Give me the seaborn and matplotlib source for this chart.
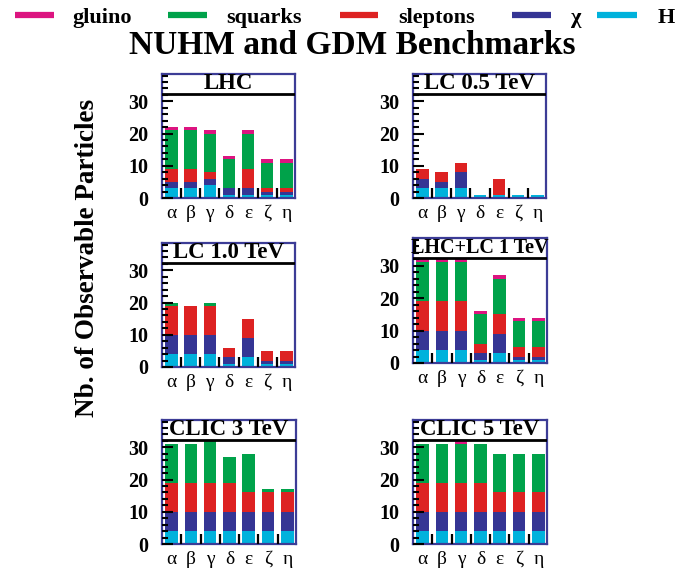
import numpy as np
import pandas as pd
import matplotlib
matplotlib.use("Agg")
import matplotlib.pyplot as plt
import seaborn as sns
from matplotlib.lines import Line2D
from matplotlib.ticker import MultipleLocator, FixedLocator

# ---------------- data ----------------
categories = ["α", "β", "γ", "δ", "ε", "ζ", "η"]
species = ["H", "χ", "sleptons", "squarks", "gluino"]   # stacking order, bottom -> top
legend_order = ["gluino", "squarks", "sleptons", "χ", "H"]

panel_titles = ["LHC", "LC 0.5 TeV", "LC 1.0 TeV", "LHC+LC 1 TeV", "CLIC 3 TeV", "CLIC 5 TeV"]

lhc_H        = [3, 3, 4, 1, 1, 1, 1]
lhc_chi      = [2, 2, 2, 2, 2, 1, 1]
lhc_sleptons = [4, 4, 2, 0, 6, 1, 1]
lhc_squarks  = [12, 12, 12, 9, 11, 8, 8]
lhc_gluino   = [1, 1, 1, 1, 1, 1, 1]

lc05_H        = [3, 3, 3, 1, 1, 1, 1]
lc05_chi      = [3, 2, 5, 0, 0, 0, 0]
lc05_sleptons = [3, 3, 3, 0, 5, 0, 0]
lc05_squarks  = [0, 0, 0, 0, 0, 0, 0]
lc05_gluino   = [0, 0, 0, 0, 0, 0, 0]

lc1_H        = [4, 4, 4, 1, 3, 1, 1]
lc1_chi      = [6, 6, 6, 2, 6, 1, 1]
lc1_sleptons = [9, 9, 9, 3, 6, 3, 3]
lc1_squarks  = [1, 0, 1, 0, 0, 0, 0]
lc1_gluino   = [0, 0, 0, 0, 0, 0, 0]

comb_H        = [4, 4, 4, 1, 3, 1, 1]
comb_chi      = [6, 6, 6, 2, 6, 1, 1]
comb_sleptons = [9, 9, 9, 3, 6, 3, 3]
comb_squarks  = [12, 12, 12, 9, 11, 8, 8]
comb_gluino   = [1, 1, 1, 1, 1, 1, 1]

clic3_H        = [4, 4, 4, 4, 4, 4, 4]
clic3_chi      = [6, 6, 6, 6, 6, 6, 6]
clic3_sleptons = [9, 9, 9, 9, 6, 6, 6]
clic3_squarks  = [12, 12, 13, 8, 12, 1, 1]
clic3_gluino   = [0, 0, 0, 0, 0, 0, 0]

clic5_H        = [4, 4, 4, 4, 4, 4, 4]
clic5_chi      = [6, 6, 6, 6, 6, 6, 6]
clic5_sleptons = [9, 9, 9, 9, 6, 6, 6]
clic5_squarks  = [12, 12, 12, 12, 12, 12, 12]
clic5_gluino   = [0, 0, 1, 0, 0, 0, 0]

panel_data = [
    [lhc_H, lhc_chi, lhc_sleptons, lhc_squarks, lhc_gluino],
    [lc05_H, lc05_chi, lc05_sleptons, lc05_squarks, lc05_gluino],
    [lc1_H, lc1_chi, lc1_sleptons, lc1_squarks, lc1_gluino],
    [comb_H, comb_chi, comb_sleptons, comb_squarks, comb_gluino],
    [clic3_H, clic3_chi, clic3_sleptons, clic3_squarks, clic3_gluino],
    [clic5_H, clic5_chi, clic5_sleptons, clic5_squarks, clic5_gluino],
]

colors = {
    "gluino": "#dc1480",
    "squarks": "#00a24a",
    "sleptons": "#dd2222",
    "χ": "#353594",
    "H": "#00b2dc",
}
frame_color = "#3c3c96"

# ---------------- layout (pixels) ----------------
W, H = 698, 570
boxes = [  # left, top, right, bottom
    (162, 74, 295, 198),
    (413, 74, 546, 198),
    (162, 243, 295, 367),
    (413, 238, 547, 363),
    (162, 420, 296, 544),
    (413, 420, 547, 544),
]

plt.rcParams["font.family"] = ["Liberation Serif", "DejaVu Serif"]

fig = plt.figure(figsize=(W / 100, H / 100), dpi=100)

YTOP = 38.5
YLINE = 32.3

for title, data, (l, t, r, b) in zip(panel_titles, panel_data, boxes):
    ax = fig.add_axes([l / W, 1 - b / H, (r - l) / W, (b - t) / H])
    cum = np.zeros(len(categories))
    layers = []
    for sp, vals in zip(species, data):
        cum = cum + np.asarray(vals, dtype=float)
        layers.append((sp, cum.copy()))
    for sp, c in reversed(layers):
        df = pd.DataFrame({"cat": categories, "n": c})
        sns.barplot(data=df, x="cat", y="n", order=categories, color=colors[sp],
                    saturation=1, width=0.65, errorbar=None, linewidth=0,
                    ax=ax, zorder=1)
    ax.set_xlabel("")
    ax.set_ylabel("")
    ax.set_xlim(-0.5, 6.45)
    ax.set_ylim(0, YTOP)

    ax.set_yticks([0, 10, 20, 30])
    ax.yaxis.set_minor_locator(MultipleLocator(2))
    ax.tick_params(axis="y", which="major", direction="in", length=8, width=1.5,
                   color="black", labelsize=14.5, pad=10, left=True, right=False)
    ax.tick_params(axis="y", which="minor", direction="in", length=4, width=1.5,
                   color="black", left=True, right=False)
    for lab in ax.get_yticklabels():
        lab.set_fontweight("bold")

    ax.set_xticks(range(len(categories)))
    ax.set_xticklabels(categories, fontsize=14)
    ax.xaxis.set_minor_locator(FixedLocator(np.arange(0.5, 6.0, 1.0)))
    ax.tick_params(axis="x", which="major", length=0, pad=5, bottom=True, top=False)
    ax.tick_params(axis="x", which="minor", direction="in", length=7.5, width=1.6,
                   color="black", bottom=True, top=False)
    ax.set_axisbelow(False)

    for s in ax.spines.values():
        s.set_color(frame_color)
        s.set_linewidth(1.6)

    ax.axhline(YLINE, color="black", lw=2, zorder=3)
    ax.text(0.5, (YLINE + YTOP) / 2 / YTOP, title, transform=ax.transAxes,
            ha="center", va="center", fontsize=14.5 if "+" in title else 16.5,
            fontweight="bold", zorder=4)

# ---------------- legend ----------------
legend_pos = {  # patch start, patch end, text x
    "gluino": (15, 54, 72),
    "squarks": (168, 207, 226),
    "sleptons": (340, 378, 398),
    "χ": (512, 551, 571),
    "H": (597, 637, 658),
}
for name in legend_order:
    x0, x1, xt = legend_pos[name]
    fig.add_artist(Line2D([x0 / W, x1 / W], [1 - 15 / H, 1 - 15 / H], lw=4.5,
                          color=colors[name], solid_capstyle="butt",
                          transform=fig.transFigure))
    fig.text(xt / W, 1 - 23 / H, name, ha="left", va="baseline", fontsize=16,
             fontweight="bold")

fig.text(352 / W, 1 - 45 / H, "NUHM and GDM Benchmarks", ha="center", va="center",
         fontsize=24, fontweight="bold")
fig.text(88 / W, 1 - 258 / H, "Nb. of Observable Particles", ha="center", va="center",
         rotation=90, fontsize=19.5, fontweight="bold")

fig.savefig("out.png", dpi=100)
